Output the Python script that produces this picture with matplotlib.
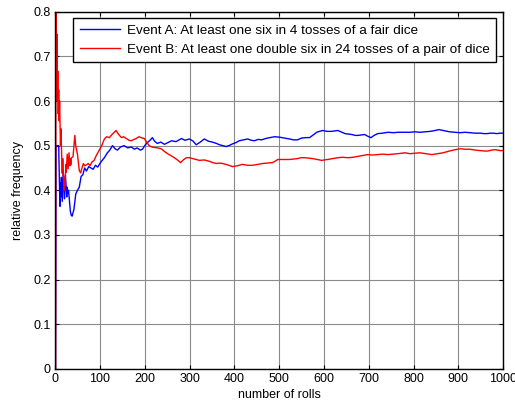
import numpy as np
import matplotlib
matplotlib.use('Agg')
import matplotlib.pyplot as plt

plt.rcParams['font.family'] = ['Liberation Sans', 'DejaVu Sans']

# Event A: at least one six in 4 tosses
n_a = [1, 2, 4, 6, 8, 9, 10, 11, 12, 13, 14, 15, 16, 17, 18, 19, 20, 21, 22, 23, 24, 25, 26, 27, 28,
       30, 32, 34, 36, 38, 40, 42, 44, 46, 48, 50, 54, 58, 62, 66, 70, 75, 80, 85, 90, 95, 100,
       105, 110, 116, 122, 128, 134, 139, 146, 154, 162, 170, 177, 183, 190, 195, 200, 206, 212,
       217, 222, 228, 236, 244, 252, 260, 270, 282, 290, 300, 308, 315, 324, 333, 342, 351, 360,
       367, 375, 382, 390, 396, 404, 411, 420, 430, 438, 445, 453, 461, 470, 479, 490, 501, 512,
       523, 532, 541, 550, 559, 568, 576, 584, 590, 597, 607, 617, 624, 631, 640, 647, 655, 662,
       670, 676, 684, 691, 698, 705, 712, 720, 731, 743, 755, 765, 781, 792, 803, 814, 826, 837,
       848, 857, 866, 881, 893, 904, 915, 926, 938, 949, 957, 964, 971, 978, 986, 993, 1000]
f_a = [0.0, 0.5, 0.5, 0.5, 0.5, 0.444, 0.40, 0.364, 0.417, 0.385, 0.429, 0.40, 0.375, 0.412, 0.444,
       0.421, 0.40, 0.381, 0.409, 0.435, 0.417, 0.40, 0.385, 0.407, 0.393,
       0.40, 0.375, 0.353, 0.344, 0.342, 0.35, 0.357, 0.375, 0.391, 0.396, 0.40, 0.407, 0.431,
       0.435, 0.45, 0.443, 0.453, 0.45, 0.447, 0.456, 0.452, 0.46,
       0.467, 0.473, 0.483, 0.49, 0.50, 0.493, 0.49, 0.497, 0.50, 0.495, 0.497, 0.492, 0.495,
       0.49, 0.492, 0.50, 0.507, 0.512,
       0.518, 0.51, 0.505, 0.508, 0.503, 0.507, 0.511, 0.509, 0.516, 0.512, 0.515, 0.51, 0.502,
       0.508, 0.515, 0.51, 0.508, 0.505,
       0.502, 0.50, 0.498, 0.501, 0.504, 0.507, 0.511, 0.513, 0.515, 0.512, 0.511, 0.514, 0.513,
       0.516, 0.518, 0.52, 0.519, 0.517,
       0.515, 0.513, 0.513, 0.517, 0.518, 0.518, 0.524, 0.53, 0.532, 0.534, 0.532, 0.532, 0.533,
       0.534, 0.53, 0.527, 0.526, 0.525,
       0.523, 0.523, 0.524, 0.525, 0.521, 0.518, 0.523, 0.527, 0.528, 0.53, 0.529, 0.53, 0.53,
       0.53, 0.531, 0.53, 0.531, 0.532,
       0.534, 0.536, 0.534, 0.531, 0.53, 0.529, 0.53, 0.529, 0.528, 0.528, 0.527, 0.527, 0.528,
       0.528, 0.527, 0.528, 0.528]

# Event B: at least one double six in 24 tosses of a pair
n_b = [1, 2, 3, 4, 5, 6, 7, 8, 9, 10, 11, 12, 13, 14, 15, 16, 17, 18, 19, 20, 21, 22, 23, 24, 25,
       26, 27, 28, 29, 30, 31, 32, 33, 34, 35, 36, 38, 40, 42, 44, 46, 48, 50, 52, 54, 57, 60,
       63, 66, 70, 74, 78, 82, 87, 92, 98, 104, 110, 115, 121, 126, 132, 136, 142, 148, 153,
       159, 165, 170, 176, 181, 187, 192, 199, 205, 210, 216, 221, 229, 237, 244, 251, 258, 266,
       273, 280, 286, 293, 300, 311, 322, 333, 344, 352, 360, 367, 374, 385, 396, 407, 418, 430,
       441, 452, 463, 474, 485, 491, 497, 510, 523, 532, 541, 549, 557, 566, 575, 585, 595, 602,
       608, 620, 631, 642, 653, 665, 676, 687, 698, 709, 720, 731, 743, 754, 765, 781, 792, 803,
       814, 828, 841, 853, 866, 880, 893, 904, 915, 926, 938, 949, 958, 966, 974, 982, 993, 1000]
f_b = [0.0, 1.0, 0.667, 0.75, 0.6, 0.667, 0.571, 0.625, 0.556, 0.6, 0.545, 0.5, 0.538, 0.5, 0.467,
       0.438, 0.471, 0.444, 0.421, 0.40, 0.429, 0.409, 0.435, 0.458, 0.44,
       0.462, 0.481, 0.464, 0.448, 0.467, 0.484, 0.469, 0.455, 0.471, 0.457, 0.472, 0.474, 0.475,
       0.50, 0.523, 0.50, 0.49, 0.48, 0.462, 0.444, 0.439, 0.45,
       0.46, 0.455, 0.457, 0.46, 0.455, 0.463, 0.467, 0.478, 0.489, 0.50, 0.515, 0.52, 0.518,
       0.524, 0.53, 0.534, 0.525, 0.518, 0.52,
       0.516, 0.512, 0.511, 0.514, 0.516, 0.52, 0.518, 0.516, 0.507, 0.50, 0.497, 0.496, 0.495,
       0.493, 0.487, 0.482, 0.478, 0.473,
       0.468, 0.462, 0.468, 0.473, 0.473, 0.47, 0.467, 0.468, 0.465, 0.462, 0.46, 0.461, 0.46,
       0.457, 0.453, 0.455, 0.458, 0.456,
       0.456, 0.458, 0.46, 0.461, 0.462, 0.465, 0.469, 0.469, 0.469, 0.47, 0.471, 0.473, 0.473,
       0.472, 0.471, 0.469, 0.467, 0.468,
       0.469, 0.471, 0.473, 0.474, 0.473, 0.474, 0.476, 0.478, 0.48, 0.479, 0.48, 0.481, 0.48,
       0.481, 0.482, 0.484, 0.482, 0.483,
       0.484, 0.482, 0.48, 0.482, 0.484, 0.488, 0.491, 0.493, 0.492, 0.492, 0.49, 0.489, 0.488,
       0.488, 0.49, 0.491, 0.489, 0.489]

label_a = 'Event A: At least one six in 4 tosses of a fair dice'
label_b = 'Event B: At least one double six in 24 tosses of a pair of dice'

fig = plt.figure(figsize=(5.15, 4.07), dpi=100)
ax = fig.add_axes([0.107, 0.094, 0.870, 0.877])

ax.plot(n_a, f_a, color='#0000ff', lw=1.0, label=label_a)
ax.plot(n_b, f_b, color='#ff0000', lw=1.0, label=label_b)

ax.set_xlim(0, 1000)
ax.set_ylim(0, 0.8)
ax.set_xticks(np.arange(0, 1001, 100))
ax.set_yticks(np.arange(0, 0.81, 0.1))
ax.set_yticklabels(['0', '0.1', '0.2', '0.3', '0.4', '0.5', '0.6', '0.7', '0.8'])
ax.grid(True, color='#8a8a8a', lw=0.8, ls='-')
ax.set_axisbelow(True)
ax.tick_params(direction='in', top=True, right=True, length=3, labelsize=9, width=0.8, pad=3)
for s in ax.spines.values():
    s.set_linewidth(1.0)

ax.set_xlabel('number of rolls', fontsize=9, labelpad=3)
ax.set_ylabel('relative frequency', fontsize=9, labelpad=7)

leg = ax.legend(loc='upper right', bbox_to_anchor=(0.984, 0.983), borderaxespad=0,
                prop={'size': 9.7}, fancybox=False, edgecolor='black', framealpha=1,
                handlelength=3.0, handletextpad=0.45, borderpad=0.5, labelspacing=0.45)
leg.get_frame().set_linewidth(1.0)

fig.savefig('out.png', dpi=100)
